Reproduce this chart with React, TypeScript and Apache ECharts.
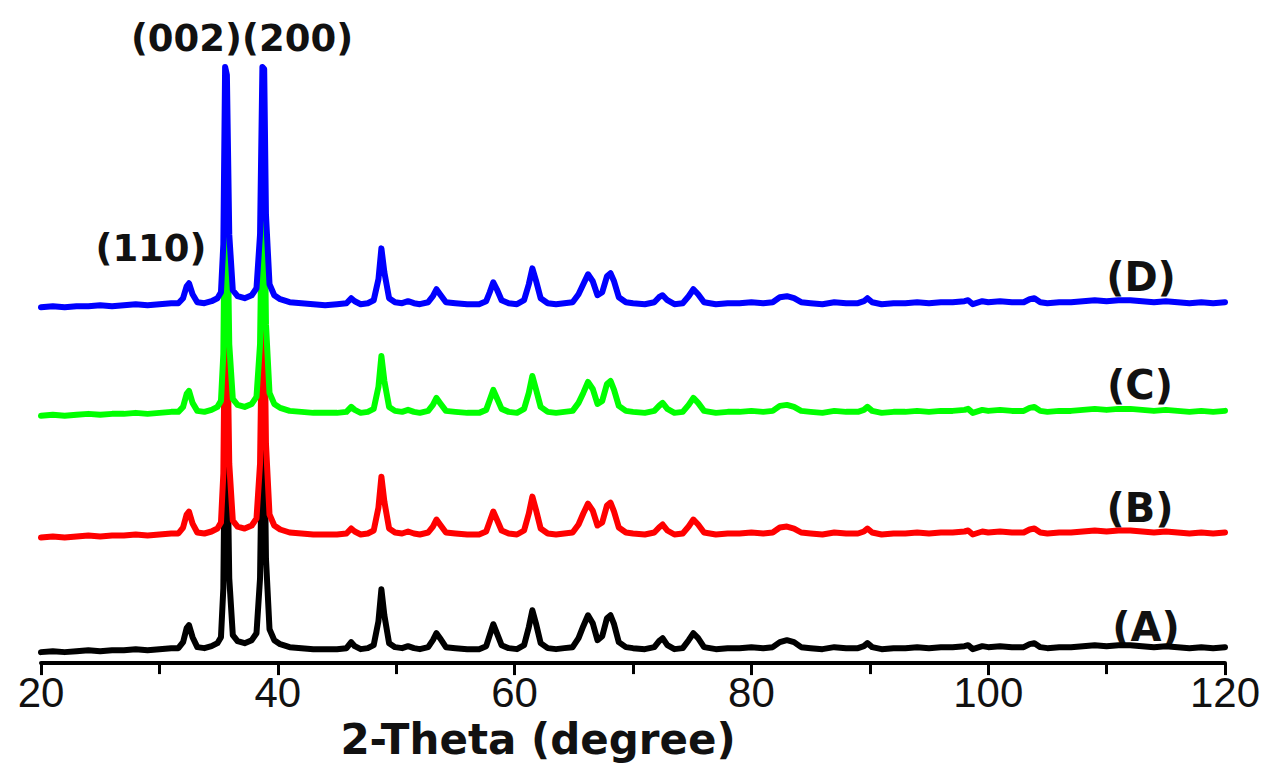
import React, { useEffect, useRef } from "react";
import * as echarts from "echarts";

// 2-Theta sample positions (degree)
const twoTheta = [
  20, 21, 22, 23, 24, 25, 26, 27, 28, 29, 30, 31,
  31.6, 32.0, 32.3, 32.5, 32.8, 33.2, 33.8, 34.4, 34.9,
  35.2, 35.4, 35.55, 35.7, 35.9, 36.2, 36.6, 37.2, 37.8,
  38.2, 38.5, 38.7, 38.85, 39.0, 39.3, 39.7, 40.2,
  41, 42, 43, 44, 45,
  45.8, 46.2, 46.5, 47, 47.6, 48.1, 48.5, 48.75, 49.0, 49.4, 49.9,
  50.5, 51, 51.5, 52, 52.7, 53.1, 53.4, 53.7, 54.2,
  55, 56, 57, 57.6, 57.9, 58.2, 58.5, 58.9, 59.5,
  60.2, 60.8, 61.2, 61.5, 61.8, 62.2, 62.8, 63.5,
  64.2, 64.9, 65.4, 65.8, 66.2, 66.6, 67.0, 67.4, 67.8, 68.1, 68.4, 68.8, 69.4,
  70, 71, 71.8, 72.2, 72.5, 72.9, 73.5,
  74.2, 74.7, 75.1, 75.5, 76,
  77, 78, 79, 80, 81,
  81.8, 82.4, 83.0, 83.6, 84.2,
  85, 86, 87, 88, 89,
  89.5, 89.8, 90.2,
  91, 92, 93, 94, 95, 96, 97, 98,
  98.3, 98.7, 99.5,
  100, 101, 102, 103,
  103.5, 103.9, 104.4,
  105, 106, 107, 108, 109, 110, 111, 112, 113, 114, 115, 116, 117, 118, 119, 120,
];

// Offset intensities (a.u.)
const intensityA = [
  11, 12, 11, 12, 13, 12, 13, 13, 14, 13, 14, 15,
  15, 21, 35, 38, 26, 16, 15, 17, 20,
  26, 75, 253, 245, 85, 28, 22, 20, 23,
  30, 85, 253, 251, 105, 34, 23, 19,
  16, 15, 14, 14, 14,
  15, 21, 17, 14, 15, 18, 42, 74, 48, 20, 16,
  15, 17, 15, 14, 16, 23, 30, 25, 16,
  15, 14, 14, 17, 28, 39, 30, 18, 15,
  14, 18, 36, 53, 40, 20, 15, 14,
  15, 16, 25, 37, 48, 40, 23, 27, 45, 48, 39, 21, 16,
  15, 14, 16, 22, 25, 18, 14,
  15, 23, 30, 25, 16,
  14, 15, 15, 16, 15,
  16, 21, 23, 21, 16,
  15, 14, 16, 15, 15,
  17, 20, 16,
  14, 15, 15, 16, 15, 16, 16, 17,
  18, 14, 17,
  16, 17, 16, 16,
  19, 20, 16,
  15, 16, 16, 17, 18, 17, 18, 18, 17, 16, 17, 16, 15, 16, 15, 16,
];

const intensityB = [
  126, 127, 126, 127, 128, 127, 128, 128, 129, 128, 129, 130,
  130, 136, 149, 152, 140, 131, 130, 132, 135,
  141, 190, 368, 360, 200, 143, 137, 135, 138,
  145, 200, 368, 366, 220, 149, 138, 134,
  131, 130, 129, 129, 129,
  130, 135, 132, 129, 130, 133, 156, 187, 162, 135, 131,
  130, 132, 130, 129, 131, 137, 144, 139, 131,
  130, 129, 129, 132, 142, 152, 144, 133, 130,
  129, 133, 150, 167, 154, 135, 130, 129,
  130, 131, 139, 150, 160, 153, 138, 141, 158, 161, 152, 136, 131,
  130, 129, 131, 136, 139, 133, 129,
  130, 137, 144, 139, 131,
  129, 130, 130, 131, 130,
  131, 136, 137, 135, 131,
  130, 129, 131, 130, 130,
  132, 135, 131,
  129, 130, 130, 131, 130, 131, 131, 132,
  133, 129, 132,
  131, 132, 131, 131,
  134, 135, 131,
  130, 131, 131, 132, 133, 132, 133, 133, 132, 131, 132, 131, 130, 131, 130, 131,
];

const intensityC = [
  248, 249, 248, 249, 250, 249, 250, 250, 251, 250, 251, 252,
  252, 257, 270, 273, 261, 253, 252, 254, 257,
  263, 310, 488, 480, 320, 265, 259, 257, 260,
  267, 320, 488, 486, 340, 271, 260, 256,
  253, 252, 251, 251, 251,
  252, 257, 254, 251, 252, 255, 277, 308, 283, 257, 253,
  252, 254, 252, 251, 253, 259, 266, 261, 253,
  252, 251, 251, 254, 264, 274, 266, 255, 252,
  251, 255, 271, 288, 275, 257, 252, 251,
  252, 253, 261, 271, 282, 275, 260, 263, 280, 283, 274, 258, 253,
  252, 251, 253, 258, 261, 255, 251,
  252, 259, 266, 261, 253,
  251, 252, 252, 253, 252,
  253, 258, 259, 257, 253,
  252, 251, 253, 252, 252,
  254, 257, 253,
  251, 252, 252, 253, 252, 253, 253, 254,
  255, 251, 254,
  253, 254, 253, 253,
  256, 257, 253,
  252, 253, 253, 254, 255, 254, 255, 255, 254, 253, 254, 253, 252, 253, 252, 253,
];

const intensityD = [
  357, 358, 357, 358, 358, 359, 358, 359, 360, 359, 360, 361,
  361, 366, 378, 381, 370, 362, 361, 363, 366,
  372, 420, 598, 590, 430, 374, 368, 366, 369,
  376, 430, 598, 596, 450, 380, 369, 365,
  362, 361, 360, 359, 360,
  361, 366, 363, 360, 361, 364, 385, 416, 392, 366, 362,
  361, 363, 361, 360, 362, 368, 375, 370, 362,
  361, 360, 360, 363, 372, 382, 375, 364, 361,
  360, 364, 380, 396, 384, 366, 361, 360,
  361, 362, 370, 380, 390, 383, 369, 372, 388, 391, 383, 367, 362,
  361, 360, 362, 367, 369, 364, 360,
  361, 368, 375, 370, 362,
  360, 361, 361, 362, 361,
  362, 367, 368, 366, 362,
  361, 360, 362, 361, 361,
  363, 366, 362,
  360, 361, 361, 362, 361, 362, 362, 363,
  364, 360, 363,
  362, 363, 362, 362,
  365, 366, 362,
  361, 362, 362, 363, 364, 363, 364, 364, 363, 362, 363, 362, 361, 362, 361, 362,
];

const seriesNames = ["(A)", "(B)", "(C)", "(D)"];
const seriesColors = ["#000000", "#ff0000", "#00ff00", "#0000ff"];
const seriesValues = [intensityA, intensityB, intensityC, intensityD];

const xTicks = [20, 40, 60, 80, 100, 120];
const peakLabels = ["(002)(200)", "(110)"];

export default function App() {
  const ref = useRef<HTMLDivElement>(null);

  useEffect(() => {
    if (!ref.current) return;
    const chart = echarts.init(ref.current, null, { renderer: "svg" });

    const peakFont = {
      fontFamily: "DejaVu Sans",
      fontWeight: "bold" as const,
      fontSize: 37,
      fill: "#111",
    };
    const seriesFont = { ...peakFont, fontSize: 40 };

    const option = {
      animation: false,
      backgroundColor: "#ffffff",
      grid: { left: 41, right: 49, top: 45, bottom: 100, containLabel: false },
      xAxis: {
        type: "value",
        min: xTicks[0],
        max: xTicks[xTicks.length - 1],
        interval: 20,
        name: "2-Theta (degree)",
        nameLocation: "middle",
        nameGap: 54,
        nameTextStyle: {
          fontFamily: "DejaVu Sans",
          fontWeight: "bold",
          fontSize: 42,
          color: "#111",
          padding: [0, 190, 0, 0],
        },
        axisLine: { show: true, lineStyle: { color: "#000", width: 4 } },
        axisTick: { show: true, inside: false, length: 12, lineStyle: { color: "#000", width: 3 } },
        minorTick: { show: true, splitNumber: 2, length: 11, lineStyle: { color: "#000", width: 3 } },
        splitLine: { show: false },
        axisLabel: {
          margin: 8,
          fontFamily: "Liberation Sans",
          fontSize: 42,
          color: "#111",
        },
      },
      yAxis: {
        type: "value",
        min: 0,
        max: 620,
        show: false,
        splitLine: { show: false },
      },
      series: seriesValues.map((vals, i) => ({
        name: seriesNames[i],
        type: "line",
        symbol: "none",
        showSymbol: false,
        silent: true,
        lineStyle: { color: seriesColors[i], width: 6, join: "round", cap: "round" },
        data: twoTheta.map((x, j) => [x, vals[j]]),
      })),
      graphic: [
        { type: "text", x: 242, y: 38, style: { ...peakFont, text: peakLabels[0], align: "center", verticalAlign: "middle" } },
        { type: "text", x: 151, y: 248, style: { ...peakFont, text: peakLabels[1], align: "center", verticalAlign: "middle" } },
        { type: "text", x: 1141, y: 277, style: { ...seriesFont, text: seriesNames[3], align: "center", verticalAlign: "middle" } },
        { type: "text", x: 1140, y: 385, style: { ...seriesFont, text: seriesNames[2], align: "center", verticalAlign: "middle" } },
        { type: "text", x: 1140, y: 508, style: { ...seriesFont, text: seriesNames[1], align: "center", verticalAlign: "middle" } },
        { type: "text", x: 1146, y: 627, style: { ...seriesFont, text: seriesNames[0], align: "center", verticalAlign: "middle" } },
      ],
    };

    chart.setOption(option as any);
    return () => chart.dispose();
  }, []);

  return (
    <div
      ref={ref}
      style={{ position: "fixed", left: 0, top: 0, width: 1274, height: 765, background: "#fff" }}
    />
  );
}
